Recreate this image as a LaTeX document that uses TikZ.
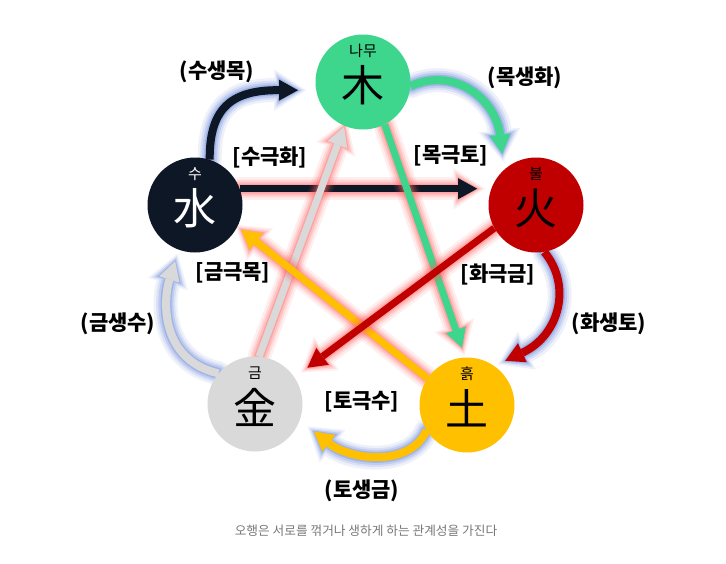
\documentclass[tikz,border=0pt]{standalone}
\usepackage{fontspec}
\newfontfamily\kr{Noto Sans CJK KR}
\usetikzlibrary{arrows.meta,calc}
\definecolor{woodc}{RGB}{61,214,140}
\definecolor{firec}{RGB}{192,0,0}
\definecolor{earthc}{RGB}{255,192,0}
\definecolor{metalc}{RGB}{217,217,217}
\definecolor{waterc}{RGB}{14,23,38}
\definecolor{glowb}{RGB}{90,125,215}
\definecolor{glowr}{RGB}{255,95,95}
\definecolor{capc}{RGB}{120,120,120}
\tikzset{
  elem/.style={circle, minimum size=95pt, inner sep=0pt, draw=none},
  lbltxt/.style={font=\kr\bfseries\fontsize{21}{21}\selectfont, text=black, inner sep=0pt},
  smalltxt/.style={font=\kr\fontsize{15}{15}\selectfont, inner sep=0pt},
  bigtxt/.style={font=\kr\fontsize{43}{43}\selectfont, inner sep=0pt},
  captxt/.style={font=\kr\fontsize{12.7}{12.7}\selectfont, text=capc, inner sep=0pt}
}
% #1 colour, #2 glow colour, #3 width (pt number), #4 shorten (pt number), #5 path
\newcommand{\glowarrow}[5]{%
  \foreach \w/\o in {16/0.10, 11/0.14, 7/0.2, 3/0.3}{%
    \begin{scope}[transparency group, opacity=\o]
      \draw[#2, line width=#3pt+\w pt, line cap=round,
        shorten >={(#4-\w/2)*1pt},
        -{Triangle[length={(19+0.8*\w)*1pt},width={(21+1.3*\w)*1pt},line width=0pt]}] #5;
    \end{scope}
  }
  \draw[#1, line width=#3pt, shorten >=#4pt,
    -{Triangle[length=19pt,width=21pt,line width=0pt]}] #5;
}
\begin{document}
\begin{tikzpicture}[x=1pt,y=-1pt]
\useasboundingbox[fill=white] (0,0) rectangle (726,563);
% element positions (circles drawn later)
\path (363,82) node[elem] (wood) {}
      (536,205) node[elem] (fire) {}
      (467,405) node[elem] (earth) {}
      (255,404) node[elem] (metal) {}
      (195,205) node[elem] (water) {};
% controlling (geuk) arrows
\glowarrow{waterc}{glowr}{7}{14}{(water.20) -- (fire.160)}
\glowarrow{woodc}{glowr}{7}{10}{(wood.-63) -- (earth.92)}
\glowarrow{metalc}{glowr}{7}{1}{(metal.85) -- (wood.-113)}
\glowarrow{earthc}{glowr}{7}{5}{(earth.146) -- (water.-27)}
\glowarrow{firec}{glowr}{7}{16}{(fire.209) -- (metal.34)}
% generating (saeng) arrows
\glowarrow{waterc}{glowb}{8}{18}{(water.72) .. controls (209,105) and (235,90) .. (wood.190)}
\glowarrow{woodc}{glowb}{8}{16}{(wood.-5) .. controls (455,66) and (496,100) .. (fire.132)}
\glowarrow{firec}{glowb}{8}{12}{(fire.-80) .. controls (572,285) and (560,335) .. (earth.55)}
\glowarrow{earthc}{glowb}{8}{18}{(earth.212) .. controls (410,468) and (350,460) .. (metal.-20)}
\glowarrow{metalc}{glowb}{8}{12}{(metal.140) .. controls (160,360) and (163,300) .. (water.-110)}
% circles
\fill[woodc] (wood) circle (47.5pt);
\fill[firec] (fire) circle (47.5pt);
\fill[earthc] (earth) circle (47.5pt);
\fill[metalc] (metal) circle (47.5pt);
\fill[waterc] (water) circle (47.5pt);
% element texts
\node[smalltxt] (woodk) at ($(wood)+(0,-31)$) {나무};
\node[bigtxt] (woodh) at ($(wood)+(0,3)$) {木};
\node[smalltxt] (firek) at ($(fire)+(0,-31)$) {불};
\node[bigtxt] (fireh) at ($(fire)+(0,3)$) {火};
\node[smalltxt] (earthk) at ($(earth)+(0,-31)$) {흙};
\node[bigtxt] (earthh) at ($(earth)+(0,3)$) {土};
\node[smalltxt] (metalk) at ($(metal)+(0,-31)$) {금};
\node[bigtxt] (metalh) at ($(metal)+(0,3)$) {金};
\node[smalltxt, text=white] (waterk) at ($(water)+(0,-31)$) {수};
\node[bigtxt, text=white] (waterh) at ($(water)+(0,3)$) {水};
% labels
\node[lbltxt] (l1) at (217,72) {(수생목)};
\node[lbltxt] (l2) at (525,78) {(목생화)};
\node[lbltxt] (l3) at (609,324) {(화생토)};
\node[lbltxt] (l4) at (362,491) {(토생금)};
\node[lbltxt] (l5) at (118,324) {(금생수)};
\node[lbltxt] (k1) at (270,157) {[수극화]};
\node[lbltxt] (k2) at (451,156) {[목극토]};
\node[lbltxt] (k3) at (498,274) {[화극금]};
\node[lbltxt] (k4) at (233,273) {[금극목]};
\node[lbltxt] (k5) at (362,402) {[토극수]};
\node[captxt] (caption) at (366,531) {오행은 서로를 꺾거나 생하게 하는 관계성을 가진다};
\end{tikzpicture}
\end{document}
